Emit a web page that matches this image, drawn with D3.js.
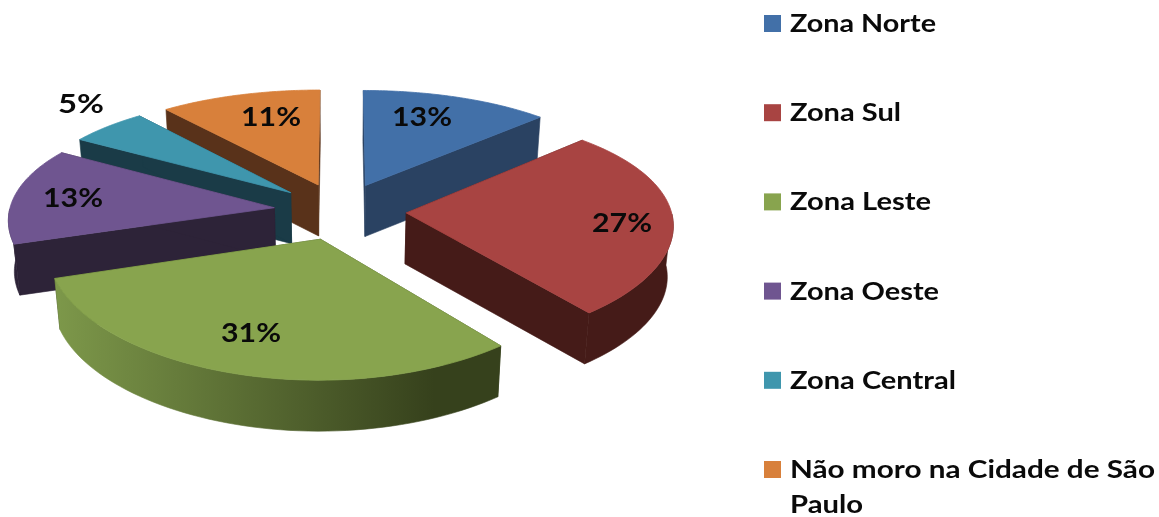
<!DOCTYPE html>
<html>
<head>
<meta charset="utf-8">
<script src="https://cdn.jsdelivr.net/npm/d3@7"></script>
<style>
  html, body { margin: 0; padding: 0; background: #fff; }
  svg { display: block; filter: blur(0.6px); }
  text { font-family: Lato, sans-serif; font-weight: 700; fill: #0a0a0a; }
</style>
</head>
<body>
<script>
// Chart data
var categories = ["Zona Norte", "Zona Sul", "Zona Leste", "Zona Oeste", "Zona Central", "Não moro na Cidade de São Paulo"];
// unrounded shares
var shares = [12.8, 26.5, 30.7, 13.7, 5.4, 10.9];
var percentLabels = ["13%", "27%", "31%", "13%", "5%", "11%"];
var topColors = ["#4270a8", "#a84442", "#88a44e", "#6f5590", "#3f96ad", "#d8803b"];
var wallColors = ["#2a4262", "#451b18", "#35401c", "#2d2338", "#1a3b47", "#59321a"];

// Layout, none of this is data
var width = 1159, height = 517;
var cx = 340, cy = 211, radius = 265, squash = 114, depth = 51;
var explode = 0.25, perspY = 0.133, perspX = 0.09, shrink = 0.018;
var labelPos = [[422, 116], [622, 222], [251, 332], [73, 197], [81, 103], [271, 116]];
// back to front, so nearer slices paint over the others
var drawOrder = [0, 5, 4, 3, 1, 2];

var svg = d3.select("body").append("svg")
    .attr("width", width)
    .attr("height", height);

var line = d3.line();

// unit pie plane -> screen, h = 0 top face, h = 1 bottom face
function project(u, v, h) {
    var x = radius * u / (1 - perspX * v);
    var y = squash * v / (1 - perspY * v);
    return [cx + x * (1 - shrink * h), cy + y + depth * h];
}

var slices = d3.pie().sort(null).value(function(d){ return d; })(shares);

// gradient along the curved wall of Zona Leste
var grad = svg.append("defs").append("linearGradient")
    .attr("id", "lesteWall");
grad.append("stop").attr("offset", "0%").attr("stop-color", "#7d984a");
grad.append("stop").attr("offset", "85%").attr("stop-color", "#36411c");
grad.append("stop").attr("offset", "100%").attr("stop-color", "#36411c");

var pie = svg.append("g").attr("class", "pie");

drawOrder.forEach(function(i){
    var d = slices[i],
        mid = (d.startAngle + d.endAngle) / 2,
        ou = explode * Math.sin(mid),
        ov = -explode * Math.cos(mid);

    function rim(a, h) { return project(ou + Math.sin(a), ov - Math.cos(a), h); }

    var angles = d3.range(0, 61).map(function(k){
        return d.startAngle + (d.endAngle - d.startAngle) * k / 60;
    });
    var apexTop = project(ou, ov, 0),
        apexBottom = project(ou, ov, 1);
    var wallFill = i === 2 ? "url(#lesteWall)" : wallColors[i];
    var g = pie.append("g").attr("class", "slice");

    // two radial walls
    [d.startAngle, d.endAngle].forEach(function(a){
        g.append("path")
            .attr("d", line([apexTop, rim(a, 0), rim(a, 1), apexBottom]) + "Z")
            .attr("fill", wallColors[i])
            .attr("stroke", wallColors[i])
            .attr("stroke-width", 0.6);
    });

    // curved wall, only the part that faces the viewer
    var front = angles.filter(function(a){ return Math.cos(a) < 0; });
    if (front.length > 1) {
        var pts = front.map(function(a){ return rim(a, 0); })
            .concat(front.slice().reverse().map(function(a){ return rim(a, 1); }));
        g.append("path")
            .attr("d", line(pts) + "Z")
            .attr("fill", wallFill)
            .attr("stroke", wallFill)
            .attr("stroke-width", 0.6);
    }

    // top face, stroked so the wall strokes don't show along its edge
    var face = [apexTop].concat(angles.map(function(a){ return rim(a, 0); }));
    g.append("path")
        .attr("d", line(face) + "Z")
        .attr("fill", topColors[i])
        .attr("stroke", topColors[i])
        .attr("stroke-width", 0.8);
});

// percent labels
svg.append("g").selectAll("text")
    .data(percentLabels)
    .enter().append("text")
    .attr("x", function(d, i){ return labelPos[i][0]; })
    .attr("y", function(d, i){ return labelPos[i][1] + 10; })
    .attr("text-anchor", "middle")
    .attr("font-size", 27)
    .attr("textLength", function(d){ return d.length === 2 ? 46 : 60; })
    .attr("lengthAdjust", "spacingAndGlyphs")
    .text(function(d){ return d; });

// legend, rows evenly spaced
var rowY = d3.scalePoint().domain(categories).range([23, 469]);
var legendLines = [["Zona Norte"], ["Zona Sul"], ["Zona Leste"], ["Zona Oeste"], ["Zona Central"], ["Não moro na Cidade de São", "Paulo"]];
var legendWidths = [[146], [111], [141], [149], [166], [365, 73]];

var rows = svg.append("g").selectAll("g")
    .data(categories)
    .enter().append("g")
    .attr("transform", function(d){ return "translate(0," + rowY(d) + ")"; });

rows.append("rect")
    .attr("x", 764).attr("y", -8)
    .attr("width", 17).attr("height", 17)
    .attr("fill", function(d, i){ return topColors[i]; });

rows.each(function(d, i){
    var row = d3.select(this);
    legendLines[i].forEach(function(t, k){
        row.append("text")
            .attr("x", 790)
            .attr("y", 9 + k * 35)
            .attr("font-size", 24)
            .attr("textLength", legendWidths[i][k])
            .attr("lengthAdjust", "spacingAndGlyphs")
            .text(t);
    });
});
</script>
</body>
</html>
